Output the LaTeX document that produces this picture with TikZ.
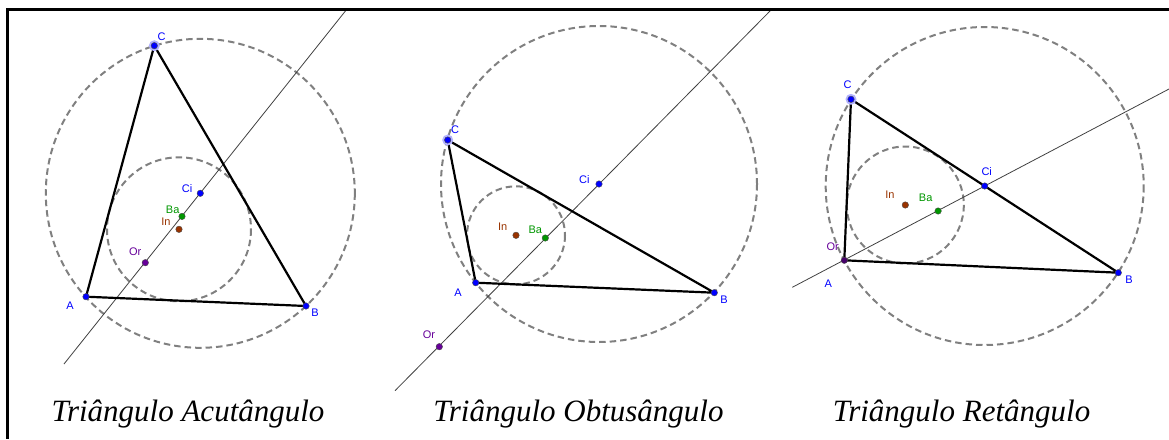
\documentclass[tikz,border=0pt]{standalone}
\usepackage{fontspec}
\setmainfont{Liberation Serif}
\setsansfont{Liberation Sans}
\usetikzlibrary{positioning}
\definecolor{ggblue}{RGB}{0,0,255}
\definecolor{gggreen}{RGB}{0,150,0}
\definecolor{ggbrown}{RGB}{153,51,0}
\definecolor{ggpurple}{RGB}{102,0,153}
\tikzset{
  side/.style={line width=2.2pt, black, line join=round},
  circ/.style={line width=2pt, black!50, dash pattern=on 6.5pt off 4pt},
  euler/.style={line width=0.8pt, black!75},
  frame/.style={line width=3pt, black},
  pt/.style={circle, fill=#1, draw=black!70, line width=0.4pt, inner sep=0pt, minimum size=6.5pt},
  halo/.style={circle, fill=ggblue!30, inner sep=0pt, minimum size=11pt},
  lbl/.style={font=\sffamily\fontsize{11}{11}\selectfont, text=#1, inner sep=0pt},
  caption/.style={font=\itshape\fontsize{31}{31}\selectfont, anchor=base, inner sep=0pt}
}

\begin{document}
\begin{tikzpicture}[x=1pt,y=-1pt]
  \useasboundingbox (0,0) rectangle (1169,439);
  % acutangle
  \coordinate (A1) at (86,296.7);
  \coordinate (B1) at (306,306);
  \coordinate (C1) at (154.3,45.7);
  \coordinate (Ci1) at (200.3,193.3);
  \coordinate (Ba1) at (182,216.4);
  \coordinate (In1) at (179,229.3);
  \coordinate (Or1) at (145.3,262.7);
  \coordinate (e1a) at (64,364);
  \coordinate (e1b) at (347,9);
  % obtuse
  \coordinate (A2) at (475.7,282.7);
  \coordinate (B2) at (714.3,292.7);
  \coordinate (C2) at (447.7,140);
  \coordinate (Ci2) at (599,184);
  \coordinate (Ba2) at (545.3,238);
  \coordinate (In2) at (516,235.3);
  \coordinate (Or2) at (439.3,346.7);
  \coordinate (e2a) at (395,390.7);
  \coordinate (e2b) at (772,9);
  % right
  \coordinate (A3) at (844.3,260.3);
  \coordinate (B3) at (1118.3,272.7);
  \coordinate (C3) at (851,99.3);
  \coordinate (Ci3) at (984.7,186);
  \coordinate (Ba3) at (938.1,211);
  \coordinate (In3) at (905.3,205);
  \coordinate (e3a) at (792.3,287.3);
  \coordinate (e3b) at (1169,89);

  \draw[circ] (Ci1) circle[radius=154.5];
  \draw[circ] (In1) circle[radius=72];
  \draw[circ] (Ci2) circle[radius=158];
  \draw[circ] (In2) circle[radius=49];
  \draw[circ] (Ci3) circle[radius=159];
  \draw[circ] (In3) circle[radius=58.5];

  \draw[euler] (e1a) -- (e1b);
  \draw[euler] (e2a) -- (e2b);
  \draw[euler] (e3a) -- (e3b);

  \draw[side] (A1) -- (B1) -- (C1) -- cycle;
  \draw[side] (A2) -- (B2) -- (C2) -- cycle;
  \draw[side] (A3) -- (B3) -- (C3) -- cycle;

  \foreach \p in {C1,C2,C3} \node[halo] at (\p) {};
  \foreach \p/\c in {A1/ggblue,B1/ggblue,C1/ggblue,Ci1/ggblue,Ba1/gggreen,In1/ggbrown,Or1/ggpurple,
                     A2/ggblue,B2/ggblue,C2/ggblue,Ci2/ggblue,Ba2/gggreen,In2/ggbrown,Or2/ggpurple,
                     B3/ggblue,C3/ggblue,Ci3/ggblue,Ba3/gggreen,In3/ggbrown}
    \node[pt=\c] (d\p) at (\p) {};
  \node[pt=ggpurple!70!black] (dA3) at (A3) {};

  % labels
  \node[lbl=ggblue] (lC1) at (161.7,36.7) {C};
  \node[lbl=ggblue] (lA1) at (70,305.3) {A};
  \node[lbl=ggblue] (lB1) at (315,312.7) {B};
  \node[lbl=ggblue] (lCi1) at (187,189) {Ci};
  \node[lbl=gggreen] (lBa1) at (172.7,209.3) {Ba};
  \node[lbl=ggbrown] (lIn1) at (166,221.3) {In};
  \node[lbl=ggpurple] (lOr1) at (135.3,251.7) {Or};

  \node[lbl=ggblue] (lC2) at (455,130) {C};
  \node[lbl=ggblue] (lA2) at (458,292.3) {A};
  \node[lbl=ggblue] (lB2) at (724,299.3) {B};
  \node[lbl=ggblue] (lCi2) at (584.3,180) {Ci};
  \node[lbl=gggreen] (lBa2) at (535.3,230) {Ba};
  \node[lbl=ggbrown] (lIn2) at (502.7,226.7) {In};
  \node[lbl=ggpurple] (lOr2) at (429,334.7) {Or};

  \node[lbl=ggblue] (lC3) at (847.7,84.3) {C};
  \node[lbl=ggblue] (lA3) at (828.3,284) {A};
  \node[lbl=ggblue] (lB3) at (1129,280) {B};
  \node[lbl=ggblue] (lCi3) at (986.7,171.7) {Ci};
  \node[lbl=gggreen] (lBa3) at (925.7,197.3) {Ba};
  \node[lbl=ggbrown] (lIn3) at (890,195) {In};
  \node[lbl=ggpurple] (lOr3) at (832.7,246.7) {Or};

  \node[caption] (cap1) at (188,421) {Triângulo Acutângulo};
  \node[caption] (cap2) at (578.5,421) {Triângulo Obtusângulo};
  \node[caption] (cap3) at (961.5,421) {Triângulo Retângulo};

  \draw[frame] (1169,9) -- (7.5,9) -- (7.5,439);
\end{tikzpicture}
\end{document}
